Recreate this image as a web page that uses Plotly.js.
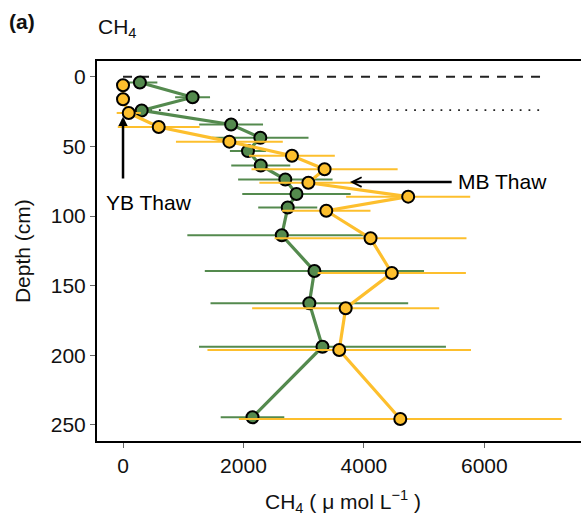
<!DOCTYPE html>
<html>
<head>
<meta charset="utf-8">
<script src="https://cdn.plot.ly/plotly-3.0.1.min.js"></script>
<style>
  html, body { margin: 0; padding: 0; overflow: hidden; background: #fff; }
  #chart { width: 600px; height: 517px; }
</style>
</head>
<body>
<div id="chart"></div>
<script>
// Porewater CH4 profiles (umol/L) against depth (cm), mean ± error for two thaw sites
const greenDepth = [4.1, 14.7, 24.2, 34.3, 43.8, 53.4, 63.7, 73.8, 84.2, 93.9, 113.8, 139.5, 162.6, 193.8, 244.5];
const greenCH4   = [280, 1155, 310, 1795, 2280, 2075, 2287, 2695, 2880, 2735, 2636, 3178, 3094, 3312, 2150];
const greenErr   = [290, 290, 150, 530, 800, 300, 490, 784, 900, 490, 1568, 1820, 1641, 2050, 528];

const yellowDepth = [6.1, 16.2, 26.0, 36.1, 46.6, 56.7, 66.4, 76.1, 86.1, 96.2, 116.0, 140.9, 166.2, 196.2, 245.7];
const yellowCH4   = [0, 0, 95, 593, 1766, 2805, 3347, 3078, 4735, 3375, 4110, 4463, 3697, 3590, 4604];
const yellowErr   = [0, 0, 200, 680, 887, 712, 1213, 814, 1030, 734, 1593, 1230, 1553, 2188, 2680];

const xTicks = [0, 2000, 4000, 6000];
const yTicks = [0, 50, 100, 150, 200, 250];

// reference levels: soil surface (dashed) and thaw front (dotted)
const surfaceDepth = 0;
const thawFrontDepth = 24;
const refLineEnd = 7000;

// arrow callouts
const mbArrow = { head: [3769, 75.6], tail: [5482, 75.6], label: [6294, 75.2], text: 'MB Thaw' };
const ybArrow = { head: [0, 28.7], tail: [0, 74.1], label: [432, 90.6], text: 'YB Thaw' };

const GREEN = '#548a4e';
const YELLOW = '#fdbf2d';
const FONT = 'Liberation Sans, Arial, sans-serif';

function profile(depth, ch4, err, color) {
  return {
    type: 'scatter',
    mode: 'lines+markers',
    x: ch4,
    y: depth,
    line: { color: color, width: 3.2 },
    marker: { size: 12, color: color, line: { color: '#000', width: 2 } },
    error_x: { type: 'data', array: err, visible: true, color: color, thickness: 2, width: 0 },
    showlegend: false,
    hoverinfo: 'x+y'
  };
}

const traces = [
  profile(greenDepth, greenCH4, greenErr, GREEN),
  profile(yellowDepth, yellowCH4, yellowErr, YELLOW)
];

function arrow(a, head) {
  return {
    x: a.head[0], y: a.head[1], xref: 'x', yref: 'y',
    ax: a.tail[0], ay: a.tail[1], axref: 'x', ayref: 'y',
    text: '', showarrow: true,
    arrowhead: head, arrowsize: 0.75, arrowwidth: 2.5, arrowcolor: '#000',
    standoff: 0, startstandoff: 0
  };
}

function label(a) {
  return {
    x: a.label[0], y: a.label[1], xref: 'x', yref: 'y',
    text: a.text, showarrow: false,
    font: { family: FONT, size: 21, color: '#000' },
    xanchor: 'center', yanchor: 'middle'
  };
}

const layout = {
  width: 600,
  height: 517,
  margin: { l: 97, r: 0, t: 61, b: 76 },
  paper_bgcolor: '#fff',
  plot_bgcolor: '#fff',
  font: { family: FONT, size: 21, color: '#111' },
  xaxis: {
    range: [-432, 7920],
    tickvals: xTicks,
    ticktext: xTicks.map(String),
    ticks: 'outside', ticklen: 5, tickwidth: 1, tickcolor: '#666',
    showline: true, linecolor: '#000', linewidth: 2, mirror: true,
    showgrid: false, zeroline: false,
    tickfont: { family: FONT, size: 21, color: '#111' }
  },
  yaxis: {
    range: [261.5, -11.3],
    tickvals: yTicks,
    ticktext: yTicks.map(String),
    ticks: 'outside', ticklen: 5, tickwidth: 1, tickcolor: '#666',
    showline: true, linecolor: '#000', linewidth: 2, mirror: true,
    showgrid: false, zeroline: false,
    tickfont: { family: FONT, size: 21, color: '#111' }
  },
  shapes: [
    { type: 'line', xref: 'x', yref: 'y', x0: 0, x1: refLineEnd, y0: surfaceDepth, y1: surfaceDepth,
      line: { color: '#222', width: 2, dash: '9px,8px' }, layer: 'below' },
    { type: 'line', xref: 'x', yref: 'y', x0: 450, x1: refLineEnd, y0: thawFrontDepth, y1: thawFrontDepth,
      line: { color: '#222', width: 1.8, dash: '1.8px,7px' }, layer: 'below' }
  ],
  annotations: [
    arrow(mbArrow, 5),
    arrow(ybArrow, 2),
    label(mbArrow),
    label(ybArrow),
    { xref: 'paper', yref: 'paper', x: 0.489, y: -0.1605, xanchor: 'center', yanchor: 'middle',
      text: 'CH<sub>4</sub> ( μ mol L<sup>−1</sup> )', showarrow: false,
      font: { family: FONT, size: 21, color: '#111' } },
    { xref: 'paper', yref: 'paper', x: -0.149, y: 0.5, xanchor: 'center', yanchor: 'middle',
      text: 'Depth (cm)', textangle: -90, showarrow: false,
      font: { family: FONT, size: 21, color: '#111' } },
    { xref: 'paper', yref: 'paper', x: -0.002, y: 1.087, xanchor: 'left', yanchor: 'middle',
      text: 'CH<sub>4</sub>', showarrow: false,
      font: { family: FONT, size: 21, color: '#111' } },
    { xref: 'paper', yref: 'paper', x: -0.179, y: 1.105, xanchor: 'left', yanchor: 'middle',
      text: '<b>(a)</b>', showarrow: false,
      font: { family: FONT, size: 21, color: '#111' } }
  ]
};

Plotly.newPlot('chart', traces, layout, { displayModeBar: false, staticPlot: true });
</script>
</body>
</html>
